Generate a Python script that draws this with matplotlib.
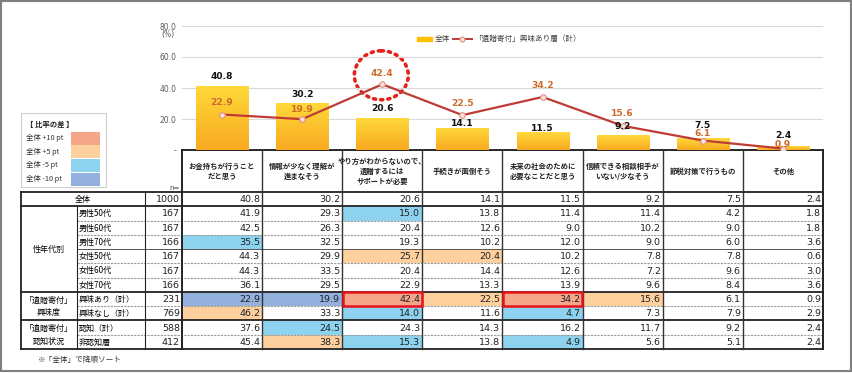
import numpy as np
import matplotlib
matplotlib.use('Agg')
import matplotlib.pyplot as plt
from matplotlib.patches import Rectangle, Ellipse
from matplotlib.colors import LinearSegmentedColormap

JP = ['Noto Sans CJK JP', 'DejaVu Sans']
plt.rcParams['font.family'] = JP

# ---------------- data ----------------
categories = ['お金持ちが行うこと\nだと思う', '情報が少なく理解が\n進まなそう',
              'やり方がわからないので、\n遺贈するには\nサポートが必要', '手続きが面倒そう',
              '未来の社会のために\n必要なことだと思う', '信頼できる相談相手が\nいない/少なそう',
              '節税対策で行うもの', 'その他']
overall = [40.8, 30.2, 20.6, 14.1, 11.5, 9.2, 7.5, 2.4]
interested = [22.9, 19.9, 42.4, 22.5, 34.2, 15.6, 6.1, 0.9]
series_names = ['全体', '「遺贈寄付」興味あり層（計）']

row_labels = ['全体', '男性50代', '男性60代', '男性70代', '女性50代', '女性60代', '女性70代',
              '興味あり（計）', '興味なし（計）', '認知（計）', '非認知層']
row_n = [1000, 167, 167, 166, 167, 167, 166, 231, 769, 588, 412]
group_labels = ['性年代別', '「遺贈寄付」\n興味度', '「遺贈寄付」\n認知状況']
group_rows = [(1, 6), (7, 8), (9, 10)]
table_values = [
    [40.8, 30.2, 20.6, 14.1, 11.5, 9.2, 7.5, 2.4],
    [41.9, 29.3, 15.0, 13.8, 11.4, 11.4, 4.2, 1.8],
    [42.5, 26.3, 20.4, 12.6, 9.0, 10.2, 9.0, 1.8],
    [35.5, 32.5, 19.3, 10.2, 12.0, 9.0, 6.0, 3.6],
    [44.3, 29.9, 25.7, 20.4, 10.2, 7.8, 7.8, 0.6],
    [44.3, 33.5, 20.4, 14.4, 12.6, 7.2, 9.6, 3.0],
    [36.1, 29.5, 22.9, 13.3, 13.9, 9.6, 8.4, 3.6],
    [22.9, 19.9, 42.4, 22.5, 34.2, 15.6, 6.1, 0.9],
    [46.2, 33.3, 14.0, 11.6, 4.7, 7.3, 7.9, 2.9],
    [37.6, 24.5, 24.3, 14.3, 16.2, 11.7, 9.2, 2.4],
    [45.4, 38.3, 15.3, 13.8, 4.9, 5.6, 5.1, 2.4],
]
diff_legend = ['全体 +10 pt', '全体 +5 pt', '全体 -5 pt', '全体 -10 pt']
yticks = [0, 20, 40, 60, 80]
ytick_labels = ['-', '20.0', '40.0', '60.0', '80.0']

# ---------------- style ----------------
C_P10, C_P5, C_M5, C_M10 = '#F4A58A', '#FDD09E', '#8DD3F0', '#93B1DC'
LINE_C = '#BF3B36'
LAB_C = '#CD6A2C'
bar_off = [10, 9, 10, 5, 4, 9, 13, 11]
line_off = [12, 10, 11, 12, 11, 12, 7, 4]

W, H = 853, 373
fig = plt.figure(figsize=(W / 100, H / 100), dpi=100)
bg = fig.add_axes([0, 0, 1, 1])
bg.set_xlim(0, W)
bg.set_ylim(H, 0)
bg.axis('off')

X0, X1 = 182, 823
Y0, Y80 = 150, 26
ax = fig.add_axes([X0 / W, (H - Y0) / H, (X1 - X0) / W, (Y0 - Y80) / H])
ax.patch.set_alpha(0)
for s in ax.spines.values():
    s.set_visible(False)
x = np.arange(len(categories))
bars = ax.bar(x, overall, width=0.65, color='#FFC726', zorder=2)
cmap = LinearSegmentedColormap.from_list('g', ['#F8A920', '#FFD93A'])
grad = np.linspace(1, 0, 128).reshape(-1, 1)
for b in bars:
    ax.imshow(grad, cmap=cmap, vmin=0, vmax=1, aspect='auto', origin='upper',
              extent=(b.get_x(), b.get_x() + b.get_width(), 0, b.get_height()), zorder=2.1)
ax.set_xlim(-0.5, 7.5)
ax.set_ylim(0, 80)
ax.set_yticks(yticks)
ax.set_yticklabels(ytick_labels, family='DejaVu Sans')
ax.tick_params(axis='y', length=0, labelsize=5.5, labelcolor='#595959', pad=4)
ax.set_xticks([])
ax.grid(axis='y', color='#D9D9D9', lw=0.8)
ax.set_axisbelow(True)
ax.plot(x, interested, color=LINE_C, lw=1.6, marker='o', ms=4, mfc='#FBE3DA',
        mec='#E48C7E', mew=0.8, zorder=4)
for i, v in enumerate(overall):
    ax.annotate(f'{v:.1f}', (i, v), xytext=(0, bar_off[i]), textcoords='offset pixels',
                ha='center', va='center', fontsize=6.6, fontweight='bold',
                family='DejaVu Sans', color='#111111', zorder=5)
for i, v in enumerate(interested):
    ax.annotate(f'{v:.1f}', (i, v), xytext=(0, line_off[i]), textcoords='offset pixels',
                ha='center', va='center', fontsize=6.6, fontweight='bold',
                family='DejaVu Sans', color=LAB_C, zorder=5)
bg.text(161, 35, '(%)', fontsize=5.5, color='#595959', va='center', ha='left', family='DejaVu Sans')

# dotted highlight circle around the max point of the line series
imax = int(np.argmax(interested))
px, py = ax.transData.transform((imax, interested[imax]))
circ = Ellipse((px - 1, H - py - 9), 54, 49, fill=False, ec='#E3231C', lw=2.6,
               ls=(0, (0.6, 1.4)), zorder=6)
circ.set_capstyle('round')
bg.add_patch(circ)

# chart legend
bg.add_patch(Rectangle((417, 37.3), 15, 3.4, color='#FFC000'))
bg.text(435, 39, series_names[0], fontsize=5.5, va='center', color='#404040')
bg.plot([453, 472], [39, 39], color=LINE_C, lw=1.4)
bg.plot([462.5], [39], marker='o', ms=3.5, mfc='#FBE3DA', mec='#E48C7E', mew=0.8)
bg.text(474, 39, series_names[1], fontsize=5.5, va='center', color='#404040')

# ---------------- table ----------------
ncol = len(categories)
cx = [X0 + i * (X1 - X0) / ncol for i in range(ncol + 1)]
T0, T1 = 192, 349
rh = (T1 - T0) / len(row_labels)
ry = [T0 + i * rh for i in range(len(row_labels) + 1)]

for r, row in enumerate(table_values):
    for c, v in enumerate(row):
        d = v - overall[c]
        col = None
        if r > 0:
            if d >= 10:
                col = C_P10
            elif d >= 5:
                col = C_P5
            elif d <= -10:
                col = C_M10
            elif d <= -5:
                col = C_M5
        if col:
            bg.add_patch(Rectangle((cx[c], ry[r]), cx[c + 1] - cx[c], rh, color=col, lw=0))
        bg.text(cx[c + 1] - 2, ry[r] + rh / 2 + 0.5, f'{v:.1f}', ha='right', va='center',
                fontsize=6.8, family='DejaVu Sans', color='#222222')
        if r > 0 and d >= 10:
            bg.add_patch(Rectangle((cx[c] + 0.5, ry[r] + 0.5), cx[c + 1] - cx[c] - 1, rh - 1,
                                   fill=False, ec='#E8141B', lw=1.8, zorder=5))

for r in range(len(row_labels)):
    yc = ry[r] + rh / 2 + 0.5
    bg.text(180, yc, str(row_n[r]), ha='right', va='center', fontsize=6.8,
            family='DejaVu Sans', color='#222222')
    if r == 0:
        bg.text((21 + 145) / 2, yc, row_labels[r], ha='center', va='center', fontsize=5.8)
    else:
        bg.text(79, yc, row_labels[r], ha='left', va='center', fontsize=5.8)
for g, (a, b) in zip(group_labels, group_rows):
    bg.text(49, (ry[a] + ry[b + 1]) / 2, g, ha='center', va='center', fontsize=5.8,
            linespacing=1.5)

# header
for c, cat in enumerate(categories):
    bg.text((cx[c] + cx[c + 1]) / 2, 171, cat, ha='center', va='center', fontsize=5.3,
            fontweight='bold', linespacing=1.45, color='#222222')
bg.text(180, 188, 'n=', ha='right', va='center', fontsize=5, color='#444444', family='DejaVu Sans')

# grid lines
K = '#222222'
bg.plot([X0, X1], [Y0, Y0], color=K, lw=1.4)
for yy in [ry[0], ry[1], ry[7], ry[9], ry[11]]:
    bg.plot([21, X1], [yy, yy], color=K, lw=1.3)
for i in [2, 3, 5, 6, 8, 10]:
    bg.plot([77, X1], [ry[i], ry[i]], color='#9A9A9A', lw=0.8, ls=(0, (2, 1)))
bg.plot([77, X1], [ry[4], ry[4]], color='#555555', lw=0.7)
bg.plot([21, 21], [T0, T1], color=K, lw=1.3)
bg.plot([77, 77], [ry[1], T1], color=K, lw=0.8)
bg.plot([145, 145], [T0, T1], color=K, lw=0.8)
for xx in cx:
    bg.plot([xx, xx], [Y0, T1], color=K if xx in (cx[0], cx[-1]) else '#333333',
            lw=1.4 if xx in (cx[0], cx[-1]) else 1.0)

# difference legend
bg.add_patch(Rectangle((21, 113), 85, 74, fill=False, ec='#D0D0D0', lw=0.8))
bg.text(26, 124, '【 比率の差 】', fontsize=5.3, fontweight='bold', va='center', color='#222222')
for k, (lab, col) in enumerate(zip(diff_legend, [C_P10, C_P5, C_M5, C_M10])):
    y = 131.5 + k * 13.7
    bg.add_patch(Rectangle((71, y), 29, 13, color=col, lw=0))
    bg.text(26, y + 6.5, lab, fontsize=5.3, va='center', color='#333333')

bg.text(38, 360, '※「全体」で降順ソート', fontsize=5.5, va='center', color='#333333')

# outer frame
bg.add_patch(Rectangle((1, 1), W - 3, H - 3, fill=False, ec='#7F7F7F', lw=1.5))

fig.savefig('out.png', dpi=100)
